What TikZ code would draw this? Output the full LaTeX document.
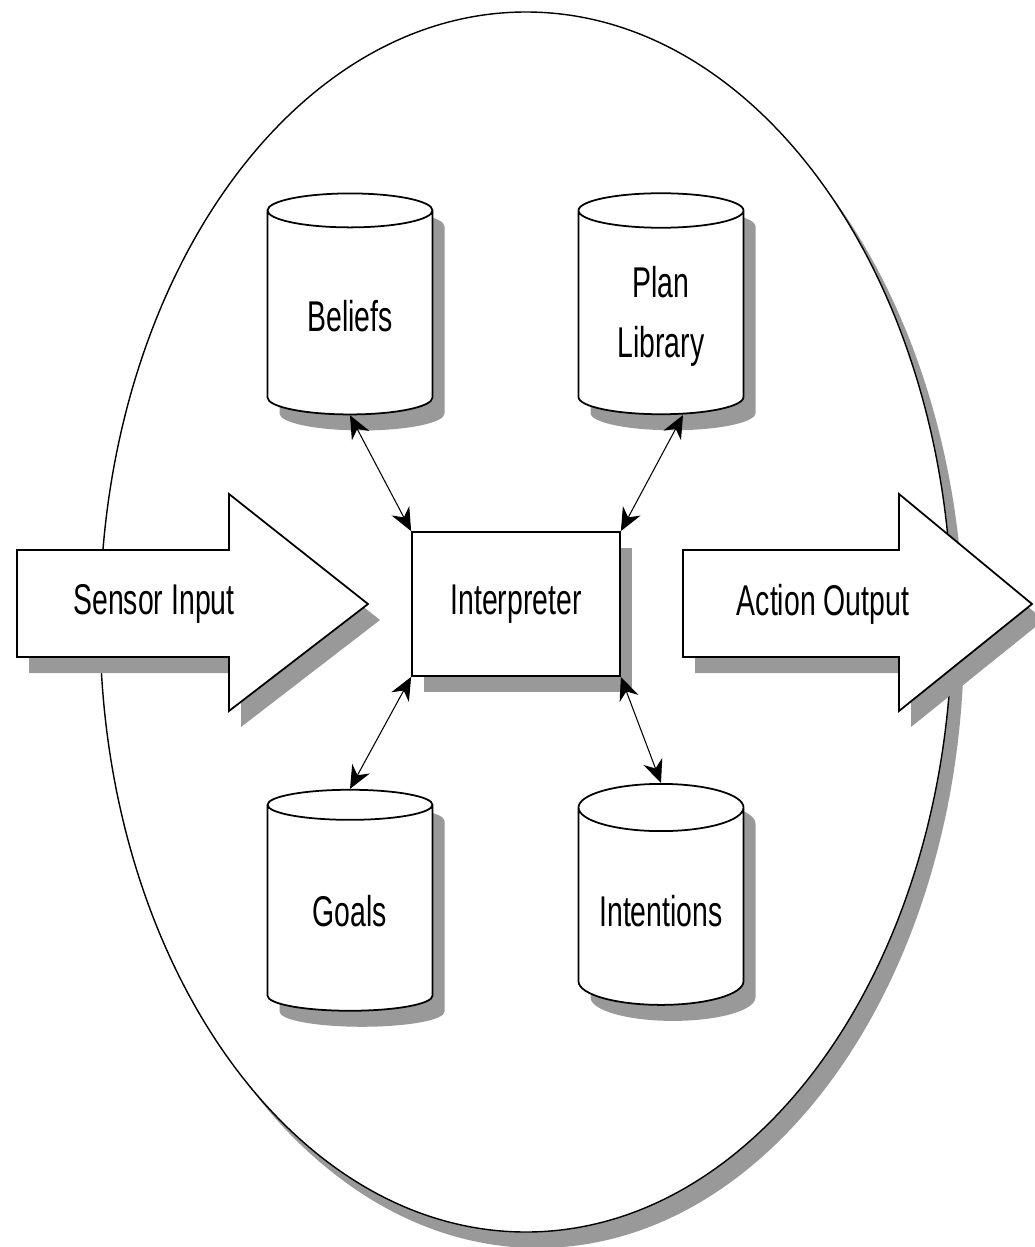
\documentclass[tikz,border=0pt]{standalone}
\usepackage{fontspec}
\setmainfont{Liberation Sans}[FakeStretch=0.66]
\usetikzlibrary{shapes.geometric,shadows,arrows.meta}

\tikzset{
  shade/.style={drop shadow={shadow xshift=2.4mm, shadow yshift=-3.2mm, opacity=1, fill=black!40}},
  store/.style={cylinder, shape border rotate=90, aspect=0.35, draw, fill=white, line width=1pt,
    minimum width=33mm, minimum height=44.2mm, shade, align=center},
  link/.style={{Stealth[length=4.6mm,width=4mm]}-{Stealth[length=4.6mm,width=4mm]}, line width=0.6pt},
}

\begin{document}
\begin{tikzpicture}[x=0.2mm, y=-0.2mm, font=\fontsize{24.5}{34}\selectfont]
    \useasboundingbox (0, 0) rectangle (1034, 1247);

    \draw[fill=white, line width=0.8pt, shade] (526, 622) ellipse [x radius=426, y radius=610];

    \node[store] (beliefs) at (350, 316) {Beliefs};
    \node[store] (plans) at (661, 316) {Plan\\Library};
    \node[store] (goals) at (350, 911) {Goals};
    \node[store] (intents) at (661, 911) {Intentions};

    \node[draw, fill=white, line width=1pt, shade, minimum width=41.6mm, minimum height=28.8mm] (interp) at (516, 604) {Interpreter};

    % block arrows in and out
    \draw[fill=white, line width=1pt, shade] (17, 550) -- (229, 550) -- (229, 494) -- (368, 604) -- (229, 711) -- (229, 657) -- (17, 657) -- cycle;
    \node (sensor) at (154, 604) {Sensor Input};
    \draw[fill=white, line width=1pt, shade] (683, 550) -- (899, 550) -- (899, 494) -- (1032, 604) -- (899, 711) -- (899, 657) -- (683, 657) -- cycle;
    \node (action) at (823, 604) {Action Output};

    \draw[link] (beliefs.south) -- (interp.north west);
    \draw[link] ([xshift=4.4mm]plans.south) -- (interp.north east);
    \draw[link] (interp.south west) -- (goals.north);
    \draw[link] (interp.south east) -- (intents.north);
\end{tikzpicture}
\end{document}
